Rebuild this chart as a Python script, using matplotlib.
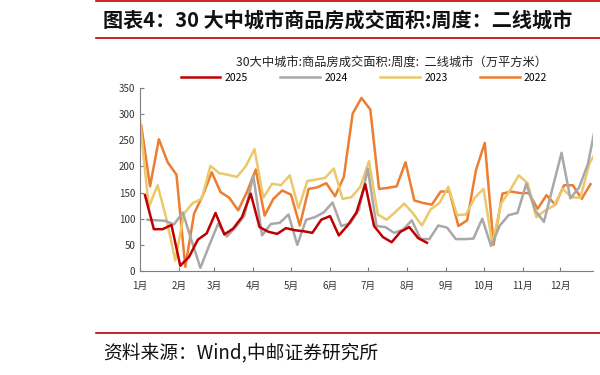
import numpy as np
import matplotlib.pyplot as plt
from matplotlib.lines import Line2D

plt.rcParams['font.family'] = ['Noto Sans CJK SC', 'DejaVu Sans']

# 周度数据（万平方米），每周一个点
v2025 = [145, 80, 80, 88, 10, 27, 60, 72, 111, 70, 81, 103, 148, 84, 75, 71, 82,
         78, 76, 73, 98, 105, 68, 87, 112, 166, 86, 65, 55, 75, 84, 63, 54]
v2024 = [98, 97, 96, 89, 112, 58, 6, 49, 90, 66, 84, 106, 183, 68, 90, 92, 108, 50,
         98, 103, 112, 131, 86, 91, 117, 196, 86, 84, 73, 79, 97, 61, 61, 87, 83, 61, 61, 62,
         100, 48, 87, 107, 111, 167, 116, 94, 160, 226, 139, 160, 205, 290]
v2023 = [288, 122, 164, 100, 20, 110, 130, 138, 201, 187, 184, 180, 200, 233, 140, 167, 164, 183, 120,
         172, 175, 178, 196, 138, 141, 161, 210, 108, 98, 113, 129, 110, 87, 118,
         130, 161, 107, 108, 140, 157, 52, 129, 154, 183, 168, 103, 116, 125, 157, 141, 140, 205, 235]
v2022 = [278, 162, 252, 208, 184, 8, 110, 145, 189, 151, 140, 116, 151, 194, 106, 138, 154, 146, 87,
         157, 160, 168, 143, 180, 301, 331, 309, 157, 159, 162, 208, 135, 130, 127, 152, 152, 86, 97, 193,
         245, 50, 148, 152, 149, 149, 119, 145, 127, 164, 164, 138, 166]

# 每年第一周所在的日序（1月1日为0）
start_day = {'2025': 4, '2024': 6, '2023': 0, '2022': 1}

month_days = [0, 31, 59, 90, 120, 151, 181, 212, 243, 273, 304, 334]
month_labels = ['1月', '2月', '3月', '4月', '5月', '6月', '7月', '8月', '9月', '10月', '11月', '12月']

series = [('2025', v2025, '#C00000'),
          ('2024', v2024, '#A8A8A8'),
          ('2023', v2023, '#EBC86A'),
          ('2022', v2022, '#ED7D31')]

fig = plt.figure(figsize=(6, 3.75), dpi=100)
ax = fig.add_axes([140 / 600, 1 - 271 / 375, 453 / 600, 183 / 375])

# 先画旧年份，让2025在最上层
for name, vals, color in series[::-1]:
    x = start_day[name] + 7 * np.arange(len(vals))
    ax.plot(x, vals, color=color, lw=1.8, label=name,
            zorder=3 if name == '2025' else 2)

ax.set_xlim(0, 360)
ax.set_ylim(0, 350)
ax.set_yticks(range(0, 351, 50))
ax.set_xticks(month_days)
ax.set_xticklabels(month_labels)
ax.tick_params(axis='both', direction='in', labelsize=7, colors='#7f7f7f',
               labelcolor='#333333', length=3)
ax.tick_params(axis='x', pad=7)
for s in ['top', 'right']:
    ax.spines[s].set_visible(False)
for s in ['left', 'bottom']:
    ax.spines[s].set_color('#7f7f7f')

handles, labels = ax.get_legend_handles_labels()
order = [labels.index(n) for n in ['2025', '2024', '2023', '2022']]
fig.legend([handles[i] for i in order], [labels[i] for i in order],
           loc='center', bbox_to_anchor=(364 / 600, 1 - 78 / 375), ncol=4,
           frameon=False, fontsize=7.5, handlelength=3.8, columnspacing=3.15,
           handletextpad=0.4)

fig.text(392 / 600, 1 - 63 / 375, '30大中城市:商品房成交面积:周度:  二线城市（万平方米）',
         ha='center', va='center', fontsize=8.8, color='#222222')

# 标题与来源
fig.add_artist(Line2D([96 / 600, 1], [1 - 1 / 375] * 2, color='#C00000', lw=1.2))
fig.text(103 / 600, 1 - 20 / 375, '图表4：30 大中城市商品房成交面积:周度：二线城市',
         ha='left', va='center', fontsize=14.5, fontweight='bold', color='#111111')
fig.add_artist(Line2D([96 / 600, 1], [1 - 38 / 375] * 2, color='#C00000', lw=1.2))
fig.add_artist(Line2D([96 / 600, 1], [1 - 333 / 375] * 2, color='#C00000', lw=1.2))
fig.text(103 / 600, 1 - 353 / 375, '资料来源：Wind,中邮证券研究所',
         ha='left', va='center', fontsize=13.5, color='#111111')

fig.savefig('out.png', dpi=100)
